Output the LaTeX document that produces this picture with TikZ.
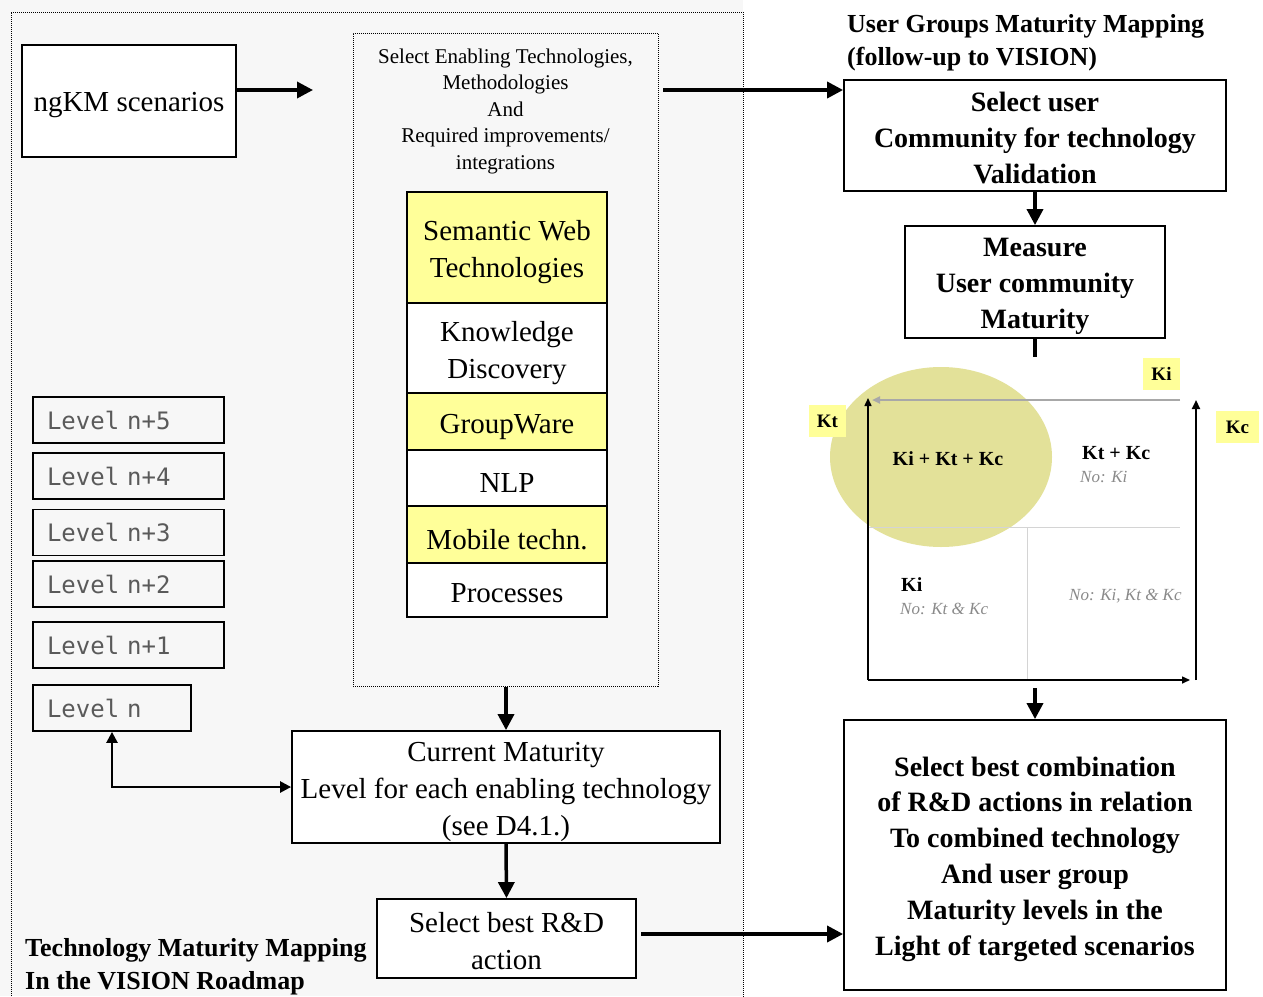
\documentclass[tikz,border=0pt]{standalone}
\usepackage{fontspec}
\setmainfont{Liberation Serif}
\newfontfamily\lvlfont{DejaVu Sans Mono}
\usetikzlibrary{arrows.meta,shapes.geometric}
\definecolor{panel}{HTML}{F7F7F7}
\definecolor{hl}{HTML}{FFFF99}
\definecolor{ellc}{HTML}{E0DE8E}
\definecolor{lvtext}{HTML}{5A5A5A}
\definecolor{divc}{HTML}{D4D4D4}
\definecolor{axc}{HTML}{A8A8A8}
\definecolor{notec}{HTML}{8A8A8A}
\tikzset{
  box/.style={draw, line width=1.8pt, fill=white, inner sep=0pt},
  cell/.style={draw, line width=1.4pt, inner sep=0pt, minimum width=200pt},
  reg/.style={font=\fontsize{29}{37}\selectfont, align=center, inner sep=0pt},
  bld/.style={font=\fontsize{28}{36}\selectfont\bfseries, align=center, inner sep=0pt},
  ttl/.style={font=\fontsize{26}{33}\selectfont\bfseries, align=left, anchor=west, inner sep=0pt},
  lvl/.style={draw, line width=1.8pt, fill=panel, inner xsep=14pt, inner ysep=0pt, minimum height=46pt,
    align=left, text=lvtext, font=\lvlfont\fontsize{24}{28}\selectfont},
  arr/.style={line width=3.5pt, -{Triangle[length=16pt,width=16pt]}},
  dblarr/.style={line width=2.4pt, {Triangle[length=11pt,width=11pt]}-{Triangle[length=11pt,width=11pt]}},
  thinarr/.style={line width=1.5pt, -{Triangle[length=8pt,width=7pt]}},
  klab/.style={fill=hl, inner sep=0pt, minimum height=32pt, font=\fontsize{19}{22}\selectfont\bfseries},
  qtxt/.style={font=\fontsize{20}{22}\selectfont\bfseries, inner sep=0pt},
  note/.style={font=\fontsize{17}{20}\selectfont\itshape, text=notec, inner sep=0pt, anchor=west}
}
\begin{document}
\begin{tikzpicture}[x=1pt,y=-1pt]
\useasboundingbox (0,0) rectangle (1263,996);
\fill[white] (0,0) rectangle (1263,996);
% left panel
\fill[panel] (0,0) rectangle (743,996);
\draw[densely dotted, line width=1pt] (11,1000) -- (11,12) -- (743,12) -- (743,1000);

% ngKM
\node[box, minimum width=214pt, minimum height=112pt] (ngkm) at (129,101) {};
\node[reg] (ngkmt) at ([yshift=-4pt]ngkm.center) {ngKM scenarios};
\coordinate (ngend) at (313,90);
\draw[arr] (ngkm.east |- ngend) -- (ngend);

% selection box
\node[draw, densely dotted, line width=1pt, minimum width=305pt, minimum height=653pt, inner sep=0pt] (sel) at (505.5,359.5) {};
\node[align=center, font=\fontsize{21}{26.5}\selectfont, inner sep=0pt] (seltxt) at (505.5,111)
  {Select Enabling Technologies,\\Methodologies\\And\\Required improvements/\\integrations};

\node[cell, fill=hl, minimum height=111pt] (sw) at (507,247.5) {};
\node[cell, fill=white, minimum height=90pt] (kd) at (507,348) {};
\node[cell, fill=hl, minimum height=57pt] (gw) at (507,421.5) {};
\node[cell, fill=white, minimum height=56pt] (nlp) at (507,478) {};
\node[cell, fill=hl, minimum height=57pt] (mt) at (507,534.5) {};
\node[cell, fill=white, minimum height=54pt] (pr) at (507,590) {};
\node[reg] (swt) at ([yshift=-5pt]sw.center) {Semantic Web\\Technologies};
\node[reg] (kdt) at ([yshift=-5pt]kd.center) {Knowledge\\Discovery};
\node[reg] (gwt) at ([yshift=-5pt]gw.center) {GroupWare};
\node[reg] (nlpt) at ([yshift=-5pt]nlp.center) {NLP};
\node[reg] (mtt) at ([yshift=-5pt]mt.center) {Mobile techn.};
\node[reg] (prt) at ([yshift=-3pt]pr.center) {Processes};

% levels
\node[lvl, text width=163pt] (l5) at (128.5,420) {Level n+5};
\node[lvl, text width=163pt] (l4) at (128.5,476) {Level n+4};
\node[lvl, text width=163pt] (l3) at (128.5,532.5) {Level n+3};
\node[lvl, text width=163pt] (l2) at (128.5,584) {Level n+2};
\node[lvl, text width=163pt] (l1) at (128.5,645) {Level n+1};
\node[lvl, text width=130pt] (l0) at (112,708) {Level n};

% current maturity
\node[box, minimum width=428pt, minimum height=112pt] (cm) at (506,787) {};
\node[reg] (cmt) at ([yshift=-5pt]cm.center) {Current Maturity\\Level for each enabling technology\\(see D4.1.)};
\node[box, minimum width=259pt, minimum height=79pt] (rd) at (506.5,938.5) {};
\node[reg] (rdt) at ([yshift=-3pt]rd.center) {Select best R\&D\\action};

\draw[arr] (sel.south -| cm.north) -- (cm.north);
\draw[arr] (cm.south) -- (rd.north);
\draw[dblarr] (l0.south) |- (cm.west);

% titles
\node[ttl] (t1) at (25,966.5) {Technology Maturity Mapping\\In the VISION Roadmap};
\node[ttl] (t2) at (847,42.5) {User Groups Maturity Mapping\\(follow-up to VISION)};

% right column
\node[box, minimum width=382pt, minimum height=111pt] (su) at (1035,135.5) {};
\node[bld] (sut) at ([yshift=-2pt]su.center) {Select user\\Community for technology\\Validation};
\node[box, minimum width=260pt, minimum height=112pt] (ms) at (1035,282) {};
\node[bld] (mst) at ([yshift=-4pt]ms.center) {Measure\\User community\\Maturity};
\node[box, minimum width=382pt, minimum height=270pt] (fin) at (1035,855) {};
\node[bld, font=\fontsize{28}{35.8}\selectfont\bfseries] (fint) at ([yshift=-4pt]fin.center)
  {Select best combination\\of R\&D actions in relation\\To combined technology\\And user group\\Maturity levels in the\\Light of targeted scenarios};

\coordinate (selout) at (663,90);
\draw[arr] (selout) -- (selout -| su.west);
\draw[arr] (su.south) -- (ms.north);
\coordinate (msstub) at (1035,357);
\draw[line width=3.5pt] (ms.south) -- (msstub);
\coordinate (matbot) at (1035,688);
\draw[arr] (matbot) -- (fin.north);
\coordinate (rdout) at (641,934);
\draw[arr] (rdout) -- (rdout -| fin.west);

% matrix
\fill[ellc, fill opacity=0.9] (941,457) ellipse [x radius=111, y radius=90];
\coordinate (O) at (868,680);
\draw[divc, line width=1pt] (868,527) -- (1180,527);
\draw[divc, line width=1pt] (1027,527) -- (1027,680);
\draw[axc, line width=2pt, -{Triangle[length=8pt,width=7pt]}] (1180,400) -- (872,400);
\draw[thinarr] (O) -- (868,398);
\draw[thinarr] (O) -- (1190,680);
\draw[line width=2pt, -{Triangle[length=9pt,width=8pt]}] (1196,680) -- (1196,400);

\node[klab, minimum width=37pt] (ki) at (1161.5,374) {Ki};
\node[klab, minimum width=37pt] (kt) at (827.5,421) {Kt};
\node[klab, minimum width=43pt] (kc) at (1237.5,427) {Kc};

\node[qtxt] (q1) at (948,459) {Ki + Kt + Kc};
\node[qtxt, anchor=west] (q2) at (1082,453) {Kt + Kc};
\node[note] (q2n) at (1080,477) {No: Ki};
\node[qtxt, anchor=west] (q3) at (901,585) {Ki};
\node[note] (q3n) at (900,609) {No: Kt \& Kc};
\node[note] (q4n) at (1069,596) {No: Ki, Kt \& Kc};
\end{tikzpicture}
\end{document}
